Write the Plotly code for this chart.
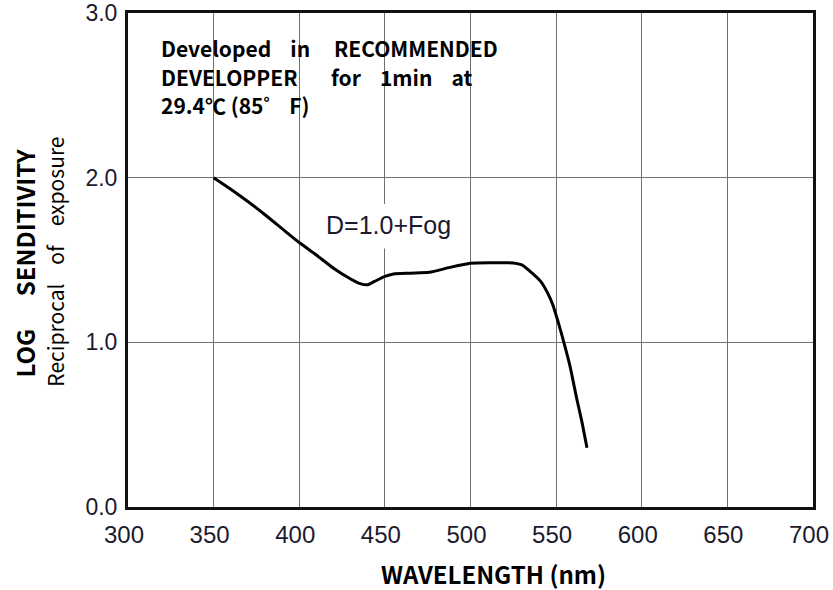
import plotly.graph_objects as go

# Curve D=1.0+Fog
wavelength = [350, 360, 370, 380, 390, 400, 410, 420, 430, 436, 440, 444, 450, 455, 465, 476, 488, 500, 512, 525, 530, 536, 541, 545, 548, 551, 554, 558, 562, 565, 568]
log_sens = [2.0, 1.93, 1.855, 1.775, 1.69, 1.606, 1.53, 1.45, 1.385, 1.355, 1.35, 1.37, 1.40, 1.415, 1.42, 1.425, 1.455, 1.48, 1.483, 1.482, 1.47, 1.42, 1.37, 1.30, 1.23, 1.13, 1.02, 0.86, 0.66, 0.52, 0.36]

x_ticks = [300, 350, 400, 450, 500, 550, 600, 650, 700]
y_ticks = [0, 1, 2, 3]
y_tick_text = ["0.0", "1.0", "2.0", "3.0"]

NB = "\u00a0"
note_lines = [
    f"Developed{NB*4}in{NB*5}RECOMMENDED",
    f"DEVELOPPER{NB*7}for{NB*4}1min{NB*4}at",
    "29.4\u2103 (85\u309c F)",
]
curve_label = "D=1.0+Fog"
x_title = "WAVELENGTH (nm)"
y_title = f"LOG{NB*6}SENDITIVITY"
y_subtitle = f"Reciprocal{NB*4}of{NB*4}exposure"

COND = "Noto Sans CJK JP, Roboto, sans-serif"
TICKF = "Liberation Sans, Arial, sans-serif"
TICKC = "#1a1a2e"

fig = go.Figure()
fig.add_trace(go.Scatter(x=wavelength, y=log_sens, mode="lines",
                         line=dict(color="black", width=3, shape="spline", smoothing=0.6),
                         hoverinfo="skip", showlegend=False))

fig.update_layout(
    width=833, height=590,
    margin=dict(l=128, r=20, t=13, b=83),
    paper_bgcolor="white", plot_bgcolor="white",
    showlegend=False,
    xaxis=dict(range=[300, 700], tickvals=x_ticks, ticks="", showgrid=True, automargin=False,
               gridcolor="#707070", gridwidth=1, zeroline=False,
               showline=True, linecolor="#111", linewidth=3, mirror=True,
               tickfont=dict(family=TICKF, size=24, color=TICKC),
               ticklabelstandoff=4, ticklabelshift=-4, ticklabeloverflow="allow"),
    yaxis=dict(range=[0, 3], tickvals=y_ticks, ticktext=y_tick_text, ticks="", showgrid=True,
               automargin=False,
               gridcolor="#707070", gridwidth=1, zeroline=False,
               showline=True, linecolor="#111", linewidth=3, mirror=True,
               tickfont=dict(family=TICKF, size=23, color=TICKC),
               ticklabelstandoff=3, ticklabeloverflow="allow"),
)

# white masks behind texts (between gridlines and traces)
fig.add_shape(type="rect", xref="paper", yref="paper", x0=0.025, x1=0.545, y0=0.757, y1=0.966,
              fillcolor="white", line_width=0, layer="between")
fig.add_shape(type="rect", xref="x", yref="y", x0=420, x1=485, y0=1.57, y1=1.84,
              fillcolor="white", line_width=0, layer="between")

for i, t in enumerate(note_lines):
    fig.add_annotation(xref="paper", yref="paper", x=0.045, y=0.929 - i * 0.058,
                       text=f"<b>{t}</b>", showarrow=False, xanchor="left", yanchor="middle",
                       font=dict(family=COND, size=21, color="black"))

fig.add_annotation(xref="x", yref="y", x=452, y=1.71, text=curve_label, showarrow=False,
                   font=dict(family=TICKF, size=25, color=TICKC))

fig.add_annotation(xref="paper", yref="paper", x=0.534, y=-0.135, text=f"<b>{x_title}</b>",
                   showarrow=False, yanchor="middle",
                   font=dict(family=COND, size=24, color="black"))

fig.add_annotation(xref="paper", yref="paper", x=-0.151, y=0.494, text=f"<b>{y_title}</b>",
                   showarrow=False, textangle=-90, xanchor="center", yanchor="middle",
                   font=dict(family=COND, size=24, color="black"))
fig.add_annotation(xref="paper", yref="paper", x=-0.107, y=0.496, text=y_subtitle,
                   showarrow=False, textangle=-90, xanchor="center", yanchor="middle",
                   font=dict(family=COND, size=21, color="black"))

# remove the browser's default 8px body margin so the figure fills the window exactly
fig.write_html("out.html", config={"displayModeBar": False},
               post_script="document.body.style.margin='0';document.body.style.overflow='hidden';")
